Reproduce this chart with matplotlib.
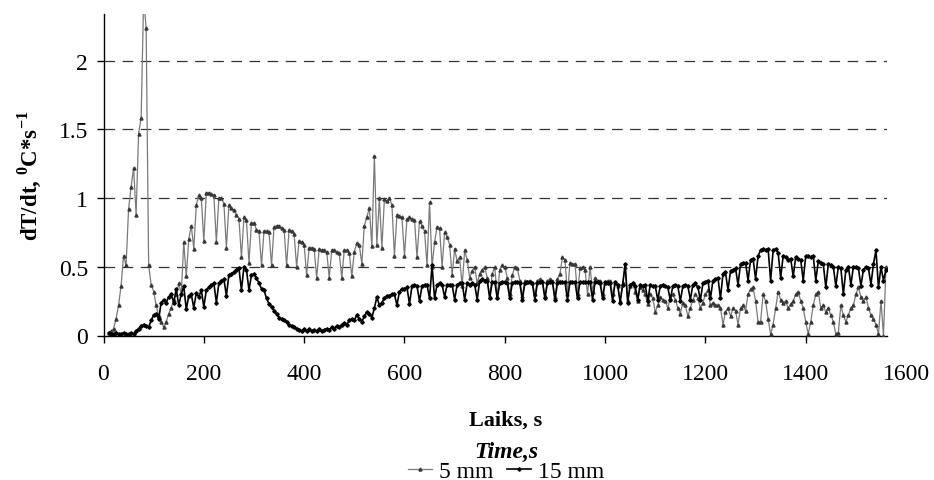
import numpy as np
import matplotlib
matplotlib.use("Agg")
import matplotlib.pyplot as plt
import matplotlib.transforms as mtransforms

# ---- data (time step 5 s) ----
time_s = np.arange(10, 1565, 5)

mm5 = [
    0.02, 0.03, 0.05, 0.12, 0.22, 0.36, 0.58, 0.51, 0.92, 1.08,
    1.22, 0.88, 1.47, 1.58, 2.45, 2.24, 0.51, 0.37, 0.32, 0.22,
    0.14, 0.10, 0.06, 0.10, 0.16, 0.20, 0.26, 0.30, 0.38, 0.30,
    0.68, 0.43, 0.70, 0.80, 0.63, 0.95, 1.02, 1.00, 0.69, 1.04,
    1.04, 1.03, 1.02, 0.68, 1.00, 1.00, 0.96, 0.64, 0.95, 0.93,
    0.91, 0.88, 0.85, 0.57, 0.86, 0.84, 0.53, 0.82, 0.82, 0.77,
    0.76, 0.51, 0.76, 0.76, 0.75, 0.51, 0.79, 0.80, 0.80, 0.78,
    0.77, 0.51, 0.77, 0.76, 0.74, 0.50, 0.69, 0.68, 0.66, 0.44,
    0.64, 0.64, 0.63, 0.42, 0.63, 0.62, 0.62, 0.61, 0.42, 0.62,
    0.62, 0.61, 0.60, 0.42, 0.62, 0.62, 0.60, 0.43, 0.61, 0.67,
    0.66, 0.52, 0.80, 0.86, 0.93, 0.65, 1.31, 0.66, 1.00, 0.64,
    0.99, 0.98, 1.00, 0.95, 0.58, 0.88, 0.87, 0.86, 0.58, 0.85,
    0.86, 0.85, 0.84, 0.57, 0.83, 0.80, 0.76, 0.51, 0.97, 0.50,
    0.68, 0.79, 0.78, 0.50, 0.75, 0.72, 0.66, 0.44, 0.63, 0.54,
    0.57, 0.36, 0.62, 0.55, 0.42, 0.47, 0.50, 0.38, 0.45, 0.48,
    0.50, 0.42, 0.28, 0.45, 0.50, 0.28, 0.48, 0.51, 0.50, 0.42,
    0.30, 0.44, 0.50, 0.49, 0.40, 0.29, 0.40, 0.39, 0.40, 0.38,
    0.30, 0.40, 0.41, 0.40, 0.29, 0.40, 0.41, 0.40, 0.28, 0.41,
    0.45, 0.57, 0.55, 0.30, 0.53, 0.52, 0.52, 0.30, 0.49, 0.50,
    0.48, 0.30, 0.50, 0.32, 0.42, 0.40, 0.40, 0.30, 0.38, 0.40,
    0.40, 0.30, 0.38, 0.36, 0.25, 0.38, 0.50, 0.25, 0.36, 0.38,
    0.32, 0.25, 0.35, 0.33, 0.30, 0.23, 0.30, 0.27, 0.17, 0.22,
    0.28, 0.26, 0.25, 0.20, 0.27, 0.30, 0.26, 0.20, 0.16, 0.24,
    0.22, 0.14, 0.20, 0.26, 0.30, 0.27, 0.20, 0.24, 0.30, 0.33,
    0.22, 0.24, 0.22, 0.22, 0.20, 0.08, 0.17, 0.20, 0.14, 0.20,
    0.18, 0.08, 0.20, 0.22, 0.18, 0.30, 0.34, 0.35, 0.25, 0.10,
    0.10, 0.30, 0.25, 0.12, 0.01, 0.08, 0.20, 0.32, 0.26, 0.24,
    0.25, 0.20, 0.23, 0.25, 0.30, 0.32, 0.25, 0.20, 0.10, 0.01,
    0.10, 0.22, 0.30, 0.32, 0.20, 0.22, 0.17, 0.20, 0.15, 0.10,
    0.01, 0.02, 0.22, 0.15, 0.10, 0.15, 0.20, 0.22, 0.30, 0.35,
    0.28, 0.25, 0.28, 0.20, 0.15, 0.12, 0.08, 0.01, 0.25, 0.00,
    0.50,
]

mm15 = [
    0.02, 0.01, 0.01, 0.02, 0.01, 0.01, 0.02, 0.01, 0.01, 0.02,
    0.01, 0.035, 0.05, 0.07, 0.08, 0.07, 0.06, 0.11, 0.15, 0.16,
    0.12, 0.24, 0.26, 0.24, 0.28, 0.30, 0.24, 0.34, 0.22, 0.30,
    0.36, 0.19, 0.29, 0.30, 0.20, 0.31, 0.28, 0.33, 0.21, 0.33,
    0.35, 0.37, 0.38, 0.24, 0.38, 0.40, 0.41, 0.29, 0.44, 0.45,
    0.46, 0.48, 0.49, 0.33, 0.50, 0.48, 0.33, 0.44, 0.45, 0.42,
    0.38, 0.34, 0.33, 0.27, 0.23, 0.21, 0.18, 0.16, 0.13, 0.12,
    0.11, 0.10, 0.08, 0.07, 0.06, 0.05, 0.04, 0.03, 0.05, 0.03,
    0.05, 0.03, 0.04, 0.03, 0.05, 0.03, 0.04, 0.05, 0.04, 0.06,
    0.05, 0.07, 0.06, 0.08, 0.09, 0.08, 0.11, 0.12, 0.11, 0.15,
    0.12, 0.10, 0.14, 0.17, 0.16, 0.13, 0.20, 0.28, 0.22, 0.24,
    0.27, 0.29, 0.29, 0.30, 0.30, 0.22, 0.32, 0.34, 0.34, 0.35,
    0.23, 0.36, 0.37, 0.36, 0.25, 0.36, 0.37, 0.37, 0.27, 0.51,
    0.27, 0.37, 0.38, 0.37, 0.28, 0.37, 0.37, 0.37, 0.26, 0.37,
    0.38, 0.38, 0.26, 0.38, 0.37, 0.38, 0.37, 0.26, 0.40, 0.41,
    0.40, 0.40, 0.27, 0.39, 0.39, 0.27, 0.38, 0.39, 0.39, 0.38,
    0.27, 0.38, 0.39, 0.39, 0.38, 0.26, 0.38, 0.39, 0.39, 0.38,
    0.26, 0.38, 0.39, 0.39, 0.27, 0.38, 0.39, 0.39, 0.26, 0.38,
    0.39, 0.39, 0.39, 0.26, 0.39, 0.39, 0.39, 0.27, 0.39, 0.39,
    0.39, 0.39, 0.39, 0.26, 0.39, 0.39, 0.38, 0.27, 0.39, 0.38,
    0.38, 0.25, 0.39, 0.37, 0.24, 0.37, 0.52, 0.24, 0.37, 0.38,
    0.36, 0.26, 0.37, 0.36, 0.37, 0.25, 0.37, 0.36, 0.36, 0.26,
    0.36, 0.37, 0.36, 0.35, 0.26, 0.36, 0.37, 0.36, 0.25, 0.36,
    0.37, 0.36, 0.26, 0.37, 0.38, 0.35, 0.26, 0.38, 0.39, 0.40,
    0.27, 0.40, 0.41, 0.42, 0.27, 0.45, 0.46, 0.33, 0.47, 0.48,
    0.49, 0.37, 0.52, 0.53, 0.53, 0.40, 0.55, 0.56, 0.41, 0.58,
    0.62, 0.63, 0.62, 0.63, 0.40, 0.62, 0.63, 0.60, 0.42, 0.58,
    0.57, 0.55, 0.56, 0.43, 0.57, 0.56, 0.55, 0.40, 0.58, 0.58,
    0.57, 0.58, 0.40, 0.54, 0.53, 0.52, 0.35, 0.52, 0.51, 0.50,
    0.36, 0.50, 0.49, 0.30, 0.48, 0.50, 0.37, 0.50, 0.50, 0.49,
    0.36, 0.48, 0.50, 0.49, 0.37, 0.52, 0.62, 0.35, 0.50, 0.40,
    0.48,
]

x_ticks = [0, 200, 400, 600, 800, 1000, 1200, 1400]
extra_tick = 1600
y_ticks = [0, 0.5, 1, 1.5, 2]
y_ticklabels = ["0", "0.5", "1", "1.5", "2"]

# ---- style ----
plt.rcParams['font.family'] = ['Liberation Serif', 'DejaVu Serif']
plt.rcParams['mathtext.fontset'] = 'custom'
plt.rcParams['mathtext.rm'] = 'Liberation Serif'
plt.rcParams['mathtext.bf'] = 'Liberation Serif:bold'

W, H = 934, 481
fig = plt.figure(figsize=(W / 100, H / 100), dpi=100)
ax = fig.add_axes([103.5 / W, 1 - 336.5 / H, (887 - 103.5) / W, (336.5 - 15) / H])

ax.plot(time_s, mm5, color='#7a7a7a', lw=0.9, marker='^', ms=2.2,
        mfc='#383838', mec='#383838', label='5 mm', zorder=3)
ax.plot(time_s, mm15, color='black', lw=1.2, marker='D', ms=1.8,
        mfc='black', mec='black', label='15 mm', zorder=4)

ax.set_xlim(0, 1562)
ax.set_ylim(0, 2.34)
ax.set_xticks(x_ticks)
ax.set_yticks(y_ticks)
ax.set_yticklabels(y_ticklabels)

for v in y_ticks[1:]:
    ax.axhline(v, color='#333333', lw=0.9, dashes=(8.5, 6), zorder=1)

for s in ['top', 'right']:
    ax.spines[s].set_visible(False)
for s in ['left', 'bottom']:
    ax.spines[s].set_linewidth(1.0)

XPAD = 15
ax.tick_params(axis='both', direction='out', length=5, width=1.0,
               labelsize=17, color='black')
ax.tick_params(axis='x', pad=XPAD)
ax.tick_params(axis='y', pad=6)

# extra "1600" label beyond the axis end
off = mtransforms.ScaledTranslation(0, -(5 + XPAD) / 72, fig.dpi_scale_trans)
ax.text(extra_tick, 0, str(extra_tick),
        transform=ax.get_xaxis_transform() + off,
        ha='center', va='top', fontsize=17, clip_on=False)

ax.set_ylabel(r'dT/dt, $^{\mathbf{0}}$C*s$^{\mathbf{-1}}$',
              fontsize=16.5, fontweight='bold')
ax.yaxis.set_label_coords(-(103.5 - 43) / (887 - 103.5), 0.5)

fig.text(506 / W, 1 - 421 / H, 'Laiks, s', ha='center', va='center',
         fontsize=16, fontweight='bold')
fig.text(506 / W, 1 - 452 / H, 'Time,s', ha='center', va='center',
         fontsize=17, fontweight='bold', style='italic')

fig.legend(loc='center', bbox_to_anchor=(506 / W, 1 - 472 / H), ncol=2,
           frameon=False, fontsize=17, numpoints=1, handlelength=1.0,
           handletextpad=0.3, columnspacing=0.6, borderpad=0, borderaxespad=0)

fig.savefig('out.png', dpi=100)
